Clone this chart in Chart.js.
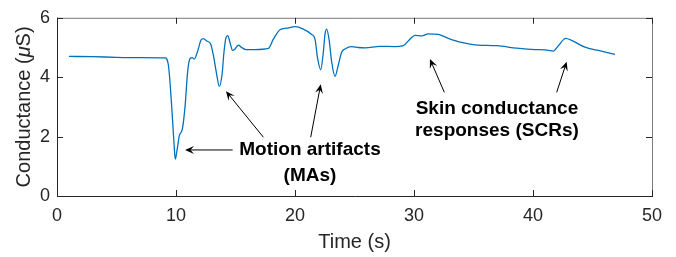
<!DOCTYPE html>
<html>
<head>
<meta charset="utf-8">
<script src="https://cdn.jsdelivr.net/npm/chart.js@4"></script>
<style>
  html, body { margin: 0; padding: 0; background: #fff; }
  #wrap { width: 676px; height: 257px; }
</style>
</head>
<body>
<div id="wrap"><canvas id="myChart" width="676" height="257"></canvas></div>
<script>
// signal (time in s, conductance in uS)
const times = [1.0, 3.0, 5.0, 7.0, 9.08, 9.36, 9.64, 9.86, 9.94, 10.11, 10.28, 10.53, 10.76, 10.98,
    11.18, 11.37, 11.54, 11.79, 12.10, 12.29, 12.58, 12.92, 13.14, 13.42, 13.64, 13.87, 14.03, 14.20,
    14.34, 14.54, 14.76, 14.96, 15.24, 15.52, 15.88, 16.64, 17.76, 18.18, 18.74, 19.30, 20.00, 20.70,
    21.40, 21.68, 21.90, 22.16, 22.38, 22.52, 22.66, 22.86, 23.08, 23.36, 23.64, 23.92, 24.20, 24.76,
    25.32, 25.88, 27.14, 28.40, 29.10, 29.66, 30.08, 30.65, 31.20, 32.04, 32.88, 34.00, 35.13, 36.95,
    38.63, 40.17, 41.00, 41.71, 42.13, 42.75, 43.25, 44.37, 45.49, 46.89];
const conductance = [4.70, 4.69, 4.67, 4.66, 4.65, 4.41, 3.00, 1.60, 1.24, 1.60, 2.03, 2.25, 3.01, 4.19,
    4.63, 4.66, 4.61, 4.84, 5.25, 5.30, 5.22, 5.11, 4.74, 4.09, 3.69, 4.09, 4.84, 5.33,
    5.40, 5.17, 4.90, 4.95, 5.08, 5.00, 4.93, 4.93, 4.97, 5.28, 5.60, 5.65, 5.70, 5.62,
    5.44, 5.28, 4.63, 4.25, 4.84, 5.44, 5.62, 5.28, 4.52, 4.03, 4.41, 4.84, 4.95, 5.03,
    5.00, 4.99, 5.04, 5.03, 5.06, 5.28, 5.41, 5.39, 5.46, 5.44, 5.31, 5.17, 5.09, 5.06,
    4.98, 4.93, 4.92, 4.88, 5.06, 5.31, 5.24, 5.01, 4.90, 4.77];

const xTicks = [0, 10, 20, 30, 40, 50];
const yTicks = [0, 2, 4, 6];

// annotations, anchored in data units
const noteLines = ["Motion artifacts", "(MAs)", "Skin conductance", "responses (SCRs)"];
const noteX = [21.26, 21.26, 36.97, 36.97];
const noteY = [1.56, 0.68, 2.95, 2.21];
const arrowTails = [[14.76, 1.55], [17.34, 1.98], [21.32, 1.98], [32.55, 3.49], [41.99, 3.49]];
const arrowTips = [[10.76, 1.55], [14.2, 3.53], [22.16, 3.76], [31.34, 4.61], [42.83, 4.52]];

const FONT = "'Liberation Sans', Arial, Helvetica, sans-serif";

const points = times.map((t, k) => ({ x: t, y: conductance[k] }));

const drawArrow = (ctx, x0, y0, x1, y1) => {
    const ang = Math.atan2(y1 - y0, x1 - x0);
    const len = 9, half = 4;
    ctx.beginPath();
    ctx.moveTo(x0, y0);
    ctx.lineTo(x1 - Math.cos(ang) * 5, y1 - Math.sin(ang) * 5);
    ctx.stroke();
    const bx = x1 - Math.cos(ang) * len, by = y1 - Math.sin(ang) * len;
    const nx = -Math.sin(ang), ny = Math.cos(ang);
    const mx = x1 - Math.cos(ang) * (len * 0.6), my = y1 - Math.sin(ang) * (len * 0.6);
    ctx.beginPath();
    ctx.moveTo(x1, y1);
    ctx.lineTo(bx + nx * half, by + ny * half);
    ctx.lineTo(mx, my);
    ctx.lineTo(bx - nx * half, by - ny * half);
    ctx.closePath();
    ctx.fill();
}

const matlabAxes = {
    id: 'matlabAxes',
    afterDraw(chart) {
        const ctx = chart.ctx;
        const a = chart.chartArea;
        const xs = chart.scales.x, ys = chart.scales.y;
        ctx.save();
        // box
        ctx.lineWidth = 1;
        ctx.strokeStyle = '#7a7a7a';
        ctx.beginPath();
        ctx.moveTo(a.left, a.top + 0.5);
        ctx.lineTo(a.right + 0.5, a.top + 0.5);
        ctx.lineTo(a.right + 0.5, a.bottom);
        ctx.stroke();
        ctx.strokeStyle = '#262626';
        ctx.beginPath();
        ctx.moveTo(a.left + 0.5, a.top);
        ctx.lineTo(a.left + 0.5, a.bottom + 0.5);
        ctx.lineTo(a.right + 1, a.bottom + 0.5);
        ctx.stroke();
        // inward ticks on all sides
        const tl = 6;
        ctx.strokeStyle = '#262626';
        ctx.beginPath();
        xTicks.forEach(v => {
            const px = Math.round(xs.getPixelForValue(v)) + 0.5;
            ctx.moveTo(px, a.bottom);
            ctx.lineTo(px, a.bottom - tl);
            ctx.moveTo(px, a.top);
            ctx.lineTo(px, a.top + tl);
        });
        yTicks.forEach(v => {
            const py = Math.round(ys.getPixelForValue(v)) + 0.5;
            ctx.moveTo(a.left, py);
            ctx.lineTo(a.left + tl, py);
            ctx.moveTo(a.right, py);
            ctx.lineTo(a.right - tl, py);
        });
        ctx.stroke();

        // axis titles
        ctx.fillStyle = '#262626';
        ctx.font = `20px ${FONT}`;
        ctx.textAlign = 'center';
        ctx.textBaseline = 'middle';
        ctx.fillText('Time (s)', (a.left + a.right) / 2, 242);

        ctx.save();
        ctx.translate(24, (a.top + a.bottom) / 2);
        ctx.rotate(-Math.PI / 2);
        const p1 = 'Conductance (', p2 = 'μ', p3 = 'S)';
        ctx.font = `20px ${FONT}`;
        const w1 = ctx.measureText(p1).width, w3 = ctx.measureText(p3).width;
        ctx.font = `italic 20px ${FONT}`;
        const w2 = ctx.measureText(p2).width;
        let sx = -(w1 + w2 + w3) / 2;
        ctx.textAlign = 'left';
        ctx.font = `20px ${FONT}`;
        ctx.fillText(p1, sx, 0);
        ctx.font = `italic 20px ${FONT}`;
        ctx.fillText(p2, sx + w1, 0);
        ctx.font = `20px ${FONT}`;
        ctx.fillText(p3, sx + w1 + w2, 0);
        ctx.restore();

        // annotations
        ctx.fillStyle = '#000';
        ctx.strokeStyle = '#000';
        ctx.lineWidth = 1;
        arrowTails.forEach((t, k) => {
            drawArrow(ctx, xs.getPixelForValue(t[0]), ys.getPixelForValue(t[1]),
                xs.getPixelForValue(arrowTips[k][0]), ys.getPixelForValue(arrowTips[k][1]));
        });
        ctx.font = `bold 19px ${FONT}`;
        ctx.textAlign = 'center';
        ctx.textBaseline = 'middle';
        noteLines.forEach((s, k) => {
            ctx.fillText(s, xs.getPixelForValue(noteX[k]), ys.getPixelForValue(noteY[k]));
        });
        ctx.restore();
    }
};

const ctx = document.getElementById('myChart').getContext('2d');
window.grafica = new Chart(ctx, {
    type: 'line',
    data: {
        datasets: [{
            label: 'Conductance',
            data: points,
            borderColor: '#0072BD',
            borderWidth: 1.3,
            pointRadius: 0,
            fill: false,
            cubicInterpolationMode: 'monotone'
        }]
    },
    options: {
        responsive: false,
        animation: false,
        layout: { padding: { top: 11, right: 24, left: 0, bottom: 0 } },
        plugins: { legend: { display: false }, tooltip: { enabled: false } },
        scales: {
            x: {
                type: 'linear',
                min: 0,
                max: 50,
                afterFit: (s) => { s.height = 61; },
                afterBuildTicks: (s) => { s.ticks = xTicks.map(v => ({ value: v })); },
                grid: { display: false, drawTicks: false },
                border: { display: false },
                ticks: { color: '#262626', font: { family: FONT, size: 18 }, padding: 9, maxRotation: 0 }
            },
            y: {
                min: 0,
                max: 6,
                afterFit: (s) => { s.width = 57; },
                afterBuildTicks: (s) => { s.ticks = yTicks.map(v => ({ value: v })); },
                grid: { display: false, drawTicks: false },
                border: { display: false },
                ticks: { color: '#262626', font: { family: FONT, size: 18 }, padding: 7 }
            }
        }
    },
    plugins: [matlabAxes]
});
</script>
</body>
</html>
